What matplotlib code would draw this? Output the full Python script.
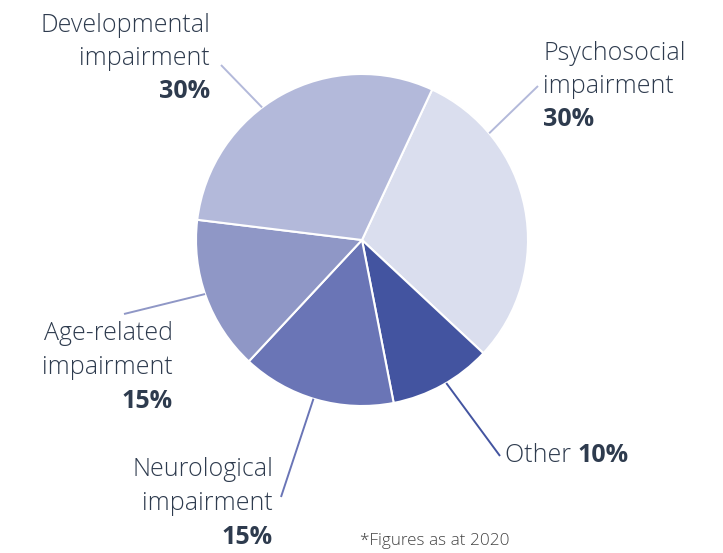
import numpy as np
import matplotlib
matplotlib.use("Agg")
import matplotlib.pyplot as plt

# data, clockwise from the top-right boundary
categories = ["Psychosocial\nimpairment", "Other", "Neurological\nimpairment",
              "Age-related\nimpairment", "Developmental\nimpairment"]
shares = [30, 10, 15, 15, 30]
colors = ["#dadeee", "#4354a0", "#6a75b6", "#8f97c6", "#b3b9da"]
line_colors = ["#b3b9da", "#4354a0", "#6a75b6", "#8f97c6", "#b3b9da"]
footnote = "*Figures as at 2020"

W, H = 723, 553
CX, CY, R = 362, 240, 166
TXT = "#2e3b4e"
plt.rcParams["font.family"] = ["Open Sans", "DejaVu Sans"]


def py(y):
    return H - y


fig = plt.figure(figsize=(W / 100, H / 100), dpi=100)
ax = fig.add_axes([0, 0, 1, 1])
ax.pie(shares, colors=colors, startangle=65, counterclock=False,
       center=(CX, py(CY)), radius=R, frame=True,
       wedgeprops=dict(edgecolor="white", linewidth=1.5))
ax.set_xlim(0, W)
ax.set_ylim(0, H)
ax.set_aspect("equal")
ax.axis("off")

# leader lines: angle on the rim -> end point of the line (pixels)
leaders = [(40, (538, 86)), (-59.5, (500, 456)), (-107, (281, 497)),
           (-161, (124, 314)), (127, (221, 65))]
for (ang, (ex, ey)), lc in zip(leaders, line_colors):
    a = np.deg2rad(ang)
    sx, sy = CX + R * np.cos(a), py(CY) + R * np.sin(a)
    ax.plot([sx, ex], [sy, py(ey)], color=lc, lw=1.4, solid_capstyle="butt")

fs = 18
lab = dict(fontsize=fs, color=TXT, va="center")
# (x, first line centre, alignment)
spots = [(543, 53, "left"), None, (273, 470, "right"),
         (173, 334, "right"), (210, 25, "right")]
for name, val, spot in zip(categories, shares, spots):
    if spot is None:
        continue
    x, y0, ha = spot
    lines = name.split("\n")
    for i, ln in enumerate(lines):
        ax.text(x, py(y0 + i * 33.5), ln, ha=ha, fontweight="light", **lab)
    ax.text(x, py(y0 + len(lines) * 33.5), f"{val}%", ha=ha,
            fontweight="bold", **lab)

t = ax.text(505, py(456), categories[1] + " ", ha="left",
            fontweight="light", **lab)
fig.canvas.draw()
bb = t.get_window_extent()
x1 = ax.transData.inverted().transform((bb.x1, bb.y0))[0]
ax.text(x1, py(456), f"{shares[1]}%", ha="left", fontweight="bold", **lab)

ax.text(360, py(541), footnote, ha="left", va="center", fontsize=12.3,
        fontweight="light", color="#444444")

fig.savefig("out.png", dpi=100)
